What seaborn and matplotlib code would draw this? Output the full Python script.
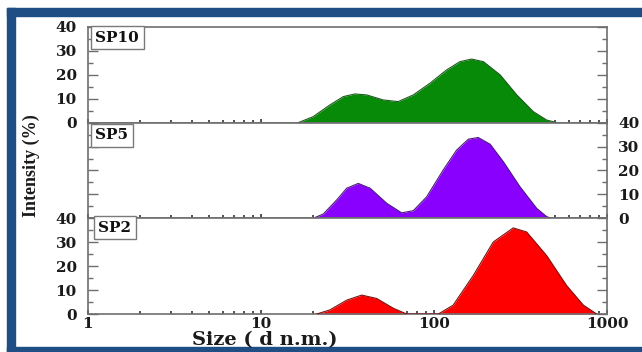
import matplotlib
matplotlib.use("Agg")
import matplotlib.pyplot as plt
from matplotlib.patches import Rectangle
from matplotlib.ticker import MultipleLocator, LogLocator, NullFormatter, FixedLocator
import seaborn as sns
import numpy as np

# ---- data ----
sizes_sp10 = [16.4, 20, 25, 29.9, 34.9, 40.8, 50.9, 62, 75.9, 94.8, 118, 141, 165, 193, 241, 301, 375, 448, 514]
int_sp10 = [0, 2.5, 7.4, 10.9, 12.0, 11.6, 9.5, 8.8, 11.6, 16.5, 22, 25.5, 26.6, 25.5, 20, 11.6, 4.6, 1.1, 0]

sizes_sp5 = [20, 22.9, 27.4, 31.3, 36.5, 42.7, 53.3, 65, 75.9, 90.7, 113, 135, 158, 180, 211, 252, 314, 392, 448, 480]
int_sp5 = [0, 1.8, 7.7, 12.6, 14.6, 12.6, 6.3, 2.3, 3.2, 9.0, 20.2, 28.5, 33.1, 33.8, 31, 23.6, 13.2, 4.2, 0.7, 0]

sizes_sp2 = [21, 25, 31.3, 38.2, 46.6, 58.2, 69.5, 106, 129, 169, 220, 287, 343, 448, 584, 730, 871]
int_sp2 = [0, 1.7, 5.8, 7.9, 6.5, 2.4, 0, 0, 3.7, 16.2, 30.1, 36.0, 34.3, 24.4, 11.9, 3.7, 0]

sample_names = ["SP10", "SP5", "SP2"]
fill_colors = ["#078a07", "#8a00ff", "#ff0000"]
edge_colors = ["#1f5a1f", "#4a1a7a", "#7a1010"]
x_tick_values = [1, 10, 100, 1000]
x_tick_labels = ["1", "10", "100", "1000"]
y_tick_values = [0, 10, 20, 30, 40]

sns.set_theme(style="ticks")
plt.rcParams["font.family"] = ["DejaVu Serif"]
plt.rcParams["font.weight"] = "bold"

W, H = 642, 352
fig = plt.figure(figsize=(W / 100, H / 100), dpi=100)
fig.patch.set_facecolor("white")

left, right, top, bottom = 88, 607, 27, 314
gs = fig.add_gridspec(3, 1, left=left / W, right=right / W, top=1 - top / H,
                      bottom=1 - bottom / H, hspace=0)
axes = [fig.add_subplot(gs[i]) for i in range(3)]

spine_col = "#6e6e6e"
datasets = [(sizes_sp10, int_sp10), (sizes_sp5, int_sp5), (sizes_sp2, int_sp2)]
label_pos = [(0.014, 0.89), (0.014, 0.866), (0.02, 0.90)]

for i, ax in enumerate(axes):
    xs, ys = datasets[i]
    ax.fill_between(xs, ys, 0, color=fill_colors[i], linewidth=0, zorder=2)
    sns.lineplot(x=xs, y=ys, ax=ax, color=edge_colors[i], linewidth=0.8,
                 sort=False, estimator=None, zorder=3)
    ax.set_xscale("log")
    ax.set_xlim(1, 1000)
    ax.set_ylim(0, 40)
    ax.set_facecolor("white")
    for s in ax.spines.values():
        s.set_color(spine_col)
        s.set_linewidth(1.2)
        s.set_visible(True)
    ax.yaxis.set_major_locator(FixedLocator(y_tick_values))
    ax.yaxis.set_minor_locator(MultipleLocator(5))
    ax.tick_params(axis="y", which="major", direction="in", length=7, width=1,
                   color=spine_col, left=True, right=True, labelsize=11, pad=8)
    ax.tick_params(axis="y", which="minor", direction="in", length=3.5, width=1,
                   color=spine_col, left=True, right=True)
    ax.xaxis.set_major_locator(FixedLocator(x_tick_values))
    ax.xaxis.set_minor_locator(LogLocator(base=10, subs=np.arange(2, 10)))
    ax.xaxis.set_minor_formatter(NullFormatter())
    ax.tick_params(axis="x", which="major", direction="in", length=3, width=1.2,
                   color="#333333", top=False, bottom=True, labelsize=11, pad=2)
    ax.tick_params(axis="x", which="minor", direction="in", length=2, width=1.2,
                   color="#333333", top=False, bottom=True)
    ax.set_xlabel("")
    ax.set_ylabel("")
    if i < 2:
        ax.tick_params(axis="x", labelbottom=False)
    else:
        ax.set_xticklabels(x_tick_labels)
    if i == 1:
        ax.tick_params(axis="y", labelleft=False, labelright=True)
    for lab in ax.get_xticklabels() + ax.get_yticklabels():
        lab.set_fontweight("bold")
        lab.set_color("#1a1a1a")
    lx, ly = label_pos[i]
    ax.text(lx, ly, sample_names[i], transform=ax.transAxes, ha="left", va="center",
            fontsize=11, fontweight="bold", color="#111111", zorder=5,
            bbox=dict(boxstyle="square,pad=0.3", fc="white", ec="#7a7a7a", lw=1))

# axis titles
fig.text(265 / W, 1 - 340 / H, "Size ( d n.m.)", ha="center", va="center",
         fontsize=14, fontweight="bold", color="#1a1a1a")
fig.text(31 / W, 1 - 166 / H, "Intensity (%)", rotation=90, ha="center", va="center",
         fontsize=13, fontweight="bold", family=["Liberation Serif"], color="#1a1a1a")

# blue frame
blue = "#1f4e85"
fig.patches.append(Rectangle((7 / W, 1 - 16 / H), 1, 8 / H, transform=fig.transFigure,
                             color=blue, zorder=0))
fig.patches.append(Rectangle((7 / W, 0), 8 / W, 1 - 8 / H, transform=fig.transFigure,
                             color=blue, zorder=0))
fig.patches.append(Rectangle((7 / W, 0), 1, 5 / H, transform=fig.transFigure,
                             color=blue, zorder=0))

fig.savefig("out.png", dpi=100, facecolor="white")
